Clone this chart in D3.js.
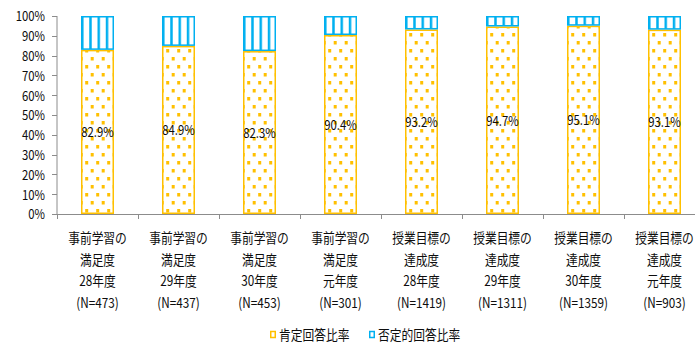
<!DOCTYPE html>
<html>
<head>
<meta charset="utf-8">
<script src="https://cdn.jsdelivr.net/npm/d3@7"></script>
<style>
  html, body { margin: 0; padding: 0; background: #fff; }
  svg { display: block; }
  text { font-family: "Noto Sans CJK JP", "Noto Sans", sans-serif; fill: #0d0d0d; }
</style>
</head>
<body>
<svg id="chart" width="695" height="345"></svg>
<script>
// Survey results: share of positive vs negative answers per item/year
const categories = [
  ["事前学習の", "満足度", "28年度", "(N=473)"],
  ["事前学習の", "満足度", "29年度", "(N=437)"],
  ["事前学習の", "満足度", "30年度", "(N=453)"],
  ["事前学習の", "満足度", "元年度", "(N=301)"],
  ["授業目標の", "達成度", "28年度", "(N=1419)"],
  ["授業目標の", "達成度", "29年度", "(N=1311)"],
  ["授業目標の", "達成度", "30年度", "(N=1359)"],
  ["授業目標の", "達成度", "元年度", "(N=903)"]
];
const positive = [82.9, 84.9, 82.3, 90.4, 93.2, 94.7, 95.1, 93.1];
const negative = positive.map(v => +(100 - v).toFixed(1));
const seriesNames = ["肯定回答比率", "否定的回答比率"];
const yTicks = [0, 10, 20, 30, 40, 50, 60, 70, 80, 90, 100];

(function draw() {
  const YELLOW = "#FFC000";
  const BLUE = "#00B0F0";
  const AXIS = "#8c8c8c";
  const SX = 0.84; // horizontal squeeze of the label font

  const svg = d3.select("#chart");
  const defs = svg.append("defs");

  const plotLeft = 57, plotRight = 705, plotTop = 16, plotBottom = 214;
  const keys = categories.map((c, i) => i);

  const x = d3.scaleBand()
    .domain(keys)
    .range([plotLeft, plotRight])
    .paddingInner(48 / 81)
    .paddingOuter(24 / 81);
  const y = d3.scaleLinear().domain([0, 100]).range([plotBottom, plotTop]);

  const rows = keys.map(i => ({ i, pos: positive[i], neg: negative[i] }));
  const stack = d3.stack().keys(["pos", "neg"])(rows);

  // per-bar fill patterns, anchored at each bar's left edge
  rows.forEach(d => {
    const bx = x(d.i);
    const dots = defs.append("pattern")
      .attr("id", "dots" + d.i)
      .attr("patternUnits", "userSpaceOnUse")
      .attr("x", bx).attr("y", plotTop)
      .attr("width", 11).attr("height", 16);
    dots.append("rect").attr("width", 11).attr("height", 16).attr("fill", "#fff");
    dots.append("rect").attr("x", 4.2).attr("y", 1).attr("width", 3).attr("height", 3.5).attr("fill", YELLOW);
    dots.append("rect").attr("x", 9.7).attr("y", 9).attr("width", 3).attr("height", 3.5).attr("fill", YELLOW);
    dots.append("rect").attr("x", -1.3).attr("y", 9).attr("width", 3).attr("height", 3.5).attr("fill", YELLOW);

    const stripes = defs.append("pattern")
      .attr("id", "stripes" + d.i)
      .attr("patternUnits", "userSpaceOnUse")
      .attr("x", bx).attr("y", 0)
      .attr("width", x.bandwidth() / 4).attr("height", 10);
    stripes.append("rect").attr("width", x.bandwidth() / 4).attr("height", 10).attr("fill", "#fff");
    stripes.append("rect").attr("x", 0).attr("width", 2.5).attr("height", 10).attr("fill", BLUE);
  });

  // stacked bars
  const layerStyle = [
    { stroke: YELLOW, fill: i => `url(#dots${i})` },
    { stroke: BLUE, fill: i => `url(#stripes${i})` }
  ];
  stack.forEach((layer, li) => {
    svg.append("g").selectAll("rect")
      .data(layer)
      .join("rect")
      .attr("x", d => x(d.data.i) + 0.75)
      .attr("width", x.bandwidth() - 1.5)
      .attr("y", d => y(d[1]) + 0.75)
      .attr("height", d => y(d[0]) - y(d[1]) - 1.5)
      .attr("fill", d => layerStyle[li].fill(d.data.i))
      .attr("stroke", layerStyle[li].stroke)
      .attr("stroke-width", 1.5);
  });

  // value labels in the middle of the positive segment
  svg.append("g").selectAll("g")
    .data(stack[0])
    .join("g")
    .attr("transform", d => `translate(${x(d.data.i) + x.bandwidth() / 2},${y((d[0] + d[1]) / 2)}) scale(${SX},1)`)
    .append("text")
    .attr("text-anchor", "middle")
    .attr("dominant-baseline", "central")
    .attr("font-size", 13.5)
    .text(d => d.data.pos.toFixed(1) + "%");

  // y axis
  const yAxis = svg.append("g");
  yAxis.append("line")
    .attr("x1", plotLeft).attr("x2", plotLeft).attr("y1", plotTop).attr("y2", plotBottom)
    .attr("stroke", AXIS);
  yAxis.selectAll("line.t").data(yTicks).join("line")
    .attr("class", "t")
    .attr("x1", plotLeft - 5).attr("x2", plotLeft)
    .attr("y1", d => Math.round(y(d)) + 0.5).attr("y2", d => Math.round(y(d)) + 0.5)
    .attr("stroke", AXIS);
  yAxis.selectAll("g").data(yTicks).join("g")
    .attr("transform", d => `translate(45,${y(d)}) scale(${SX},1)`)
    .append("text")
    .attr("text-anchor", "end")
    .attr("dominant-baseline", "central")
    .attr("font-size", 13.5)
    .text(d => d + "%");

  // x axis with ticks between categories
  const xAxis = svg.append("g");
  xAxis.append("line")
    .attr("x1", plotLeft).attr("x2", plotRight).attr("y1", plotBottom + 0.5).attr("y2", plotBottom + 0.5)
    .attr("stroke", AXIS);
  xAxis.selectAll("line.t").data(d3.range(categories.length + 1)).join("line")
    .attr("class", "t")
    .attr("x1", i => Math.round(plotLeft + i * x.step()) + 0.5)
    .attr("x2", i => Math.round(plotLeft + i * x.step()) + 0.5)
    .attr("y1", plotBottom).attr("y2", plotBottom + 5)
    .attr("stroke", AXIS);

  // category labels, four lines each
  const lineY = [243, 264.5, 286, 307.5];
  const cat = svg.append("g").selectAll("g")
    .data(keys)
    .join("g")
    .attr("transform", i => `translate(${x(i) + x.bandwidth() / 2},0)`);
  cat.each(function (i) {
    const g = d3.select(this);
    categories[i].forEach((line, k) => {
      g.append("g")
        .attr("transform", `translate(0,${lineY[k]}) scale(${SX},1)`)
        .append("text")
        .attr("text-anchor", "middle")
        .attr("font-size", 14)
        .text(line);
    });
  });

  // legend
  const legend = svg.append("g");
  const legendItems = [
    { name: seriesNames[0], color: YELLOW, sx: 270, tx: 279 },
    { name: seriesNames[1], color: BLUE, sx: 369, tx: 378 }
  ];
  legendItems.forEach(it => {
    legend.append("rect")
      .attr("x", it.sx + 0.75).attr("y", 331.5)
      .attr("width", 4.5).attr("height", 6)
      .attr("fill", "#fff")
      .attr("stroke", it.color).attr("stroke-width", 1.5);
    legend.append("g")
      .attr("transform", `translate(${it.tx},334.5) scale(${SX},1)`)
      .append("text")
      .attr("dominant-baseline", "central")
      .attr("font-size", 14)
      .text(it.name);
  });
})();
</script>
</body>
</html>
